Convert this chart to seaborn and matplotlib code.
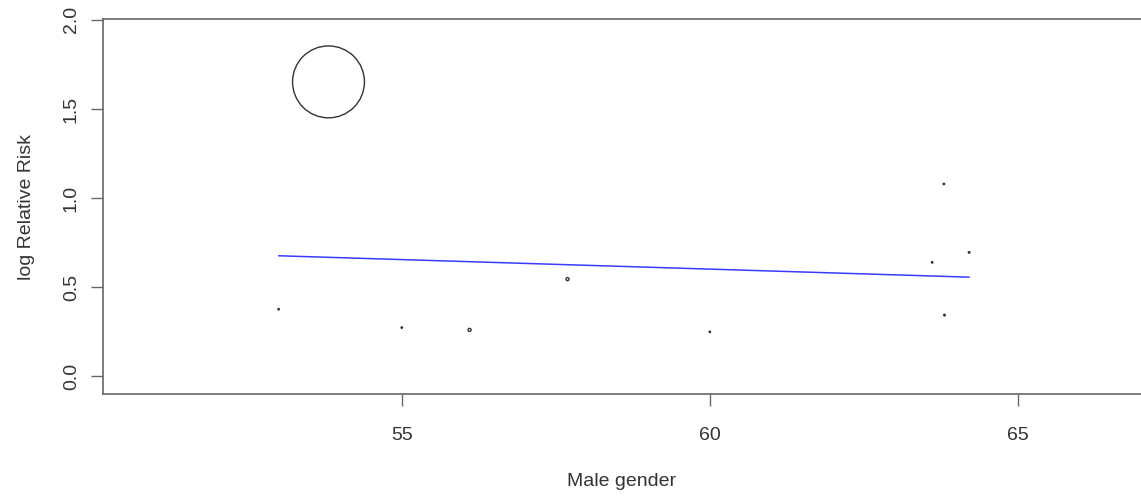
import numpy as np
import pandas as pd
import matplotlib
matplotlib.use("Agg")
from matplotlib import pyplot as plt
import seaborn as sns

# 연구별 값
male_pct = [53.81, 53.0, 55.0, 56.1, 57.69, 60.0, 63.61, 63.80, 63.81, 64.21]
log_rr = [1.652, 0.376, 0.273, 0.26, 0.545, 0.249, 0.639, 1.079, 0.343, 0.695]
weight = [100, 0.04, 0.04, 0.18, 0.18, 0.04, 0.04, 0.04, 0.05, 0.05]

# 메타회귀 직선 양 끝
fit_x = [53.0, 64.21]
fit_y = [0.676, 0.556]

x_ticks = [55, 60, 65]
y_ticks = [0.0, 0.5, 1.0, 1.5, 2.0]

sns.set_theme(style="ticks")
plt.rcParams['font.family'] = ['Liberation Sans', 'DejaVu Sans']

df = pd.DataFrame({'male': male_pct, 'lrr': log_rr, 'w': weight})

fig = plt.figure(figsize=(11.41, 4.97), dpi=100)
ax = fig.add_axes([0.0903, 0.2072, 0.9097, 0.7546])

sns.scatterplot(data=df, x='male', y='lrr', size='w', sizes=(0, 2680),
                size_norm=(0, 100), legend=False, ax=ax,
                facecolor='none', edgecolor='#333333', linewidth=1.0)
sns.lineplot(x=fit_x, y=fit_y, ax=ax, color='#3a3aff', lw=1.1)

ax.set_xlim(50.15, 67.0)
ax.set_ylim(-0.1, 2.005)
ax.set_xticks(x_ticks)
ax.set_xticklabels([str(t) for t in x_ticks])
ax.set_yticks(y_ticks)
ax.set_yticklabels([f'{t:.1f}' for t in y_ticks], rotation=90, va='center')

for side in ['left', 'bottom', 'top']:
    ax.spines[side].set_color('#666666')
    ax.spines[side].set_linewidth(1.2)
ax.spines['right'].set_visible(False)

ax.tick_params(axis='both', length=8.6, width=1.0, color='#666666',
               labelsize=14, labelcolor='#333333')
ax.tick_params(axis='x', pad=15)
ax.tick_params(axis='y', pad=8)

ax.set_xlabel('Male gender', fontsize=14, color='#333333', labelpad=21)
ax.set_ylabel('log Relative Risk', fontsize=14, color='#333333', labelpad=20)

fig.savefig('out.png', dpi=100)
